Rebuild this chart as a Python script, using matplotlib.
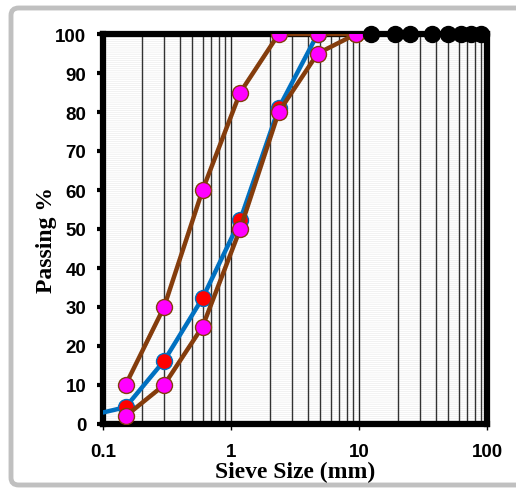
import numpy as np
import matplotlib.pyplot as plt
from matplotlib.patches import FancyBboxPatch
from matplotlib.ticker import LogLocator, NullFormatter

# sieve sizes (mm) and passing percentages
sieve = [0.15, 0.3, 0.6, 1.18, 2.36, 4.75, 9.5]
upper_limit = [10, 30, 60, 85, 100, 100, 100]
lower_limit = [2, 10, 25, 50, 80, 95, 100]

sample_sieve = [0.075, 0.15, 0.3, 0.6, 1.18, 2.36, 4.75]
sample_pass = [2, 4.3, 16.2, 32.3, 52.3, 81, 100]

coarse_sieve = [12.5, 19, 25, 37.5, 50, 63, 75, 90]
coarse_pass = [100, 100, 100, 100, 100, 100, 100, 100]

x_ticks = [0.1, 1, 10, 100]
x_tick_labels = ['0.1', '1', '10', '100']
y_ticks = list(range(0, 101, 10))

plt.rcParams['hatch.linewidth'] = 1.2

fig = plt.figure(figsize=(5.16, 4.89), dpi=100)

# outer rounded frame
frame = FancyBboxPatch((11 / 516, 3 / 489), 520 / 516, 477 / 489,
                       boxstyle='round,pad=0,rounding_size=0.015',
                       transform=fig.transFigure, facecolor='white',
                       edgecolor='#c0c0c0', linewidth=3.5, zorder=-5)
fig.patches.append(frame)

ax = fig.add_axes([103 / 516, 64 / 489, 384 / 516, 390 / 489])
ax.set_xscale('log')
ax.set_xlim(0.1, 100)
ax.set_ylim(0, 100)

# striped background
ax.patch.set_facecolor('#e2e2e2')
ax.patch.set_edgecolor('white')
ax.patch.set_hatch('--------')

# vertical grid lines
ax.xaxis.set_minor_locator(LogLocator(base=10, subs=np.arange(2, 10)))
ax.xaxis.set_minor_formatter(NullFormatter())
ax.grid(True, which='minor', axis='x', color='#333333', linewidth=1.0)
ax.grid(True, which='major', axis='x', color='#222222', linewidth=1.0)

ax.plot(sieve, upper_limit, color='#843c0c', linewidth=3.2, marker='o',
        markersize=11.5, markerfacecolor='#ff00ff', markeredgecolor='#843c0c',
        markeredgewidth=1, zorder=4)
ax.plot(sample_sieve, sample_pass, color='#0070c0', linewidth=3.2, marker='o',
        markersize=11.5, markerfacecolor='#ff0000', markeredgecolor='#0070c0',
        markeredgewidth=1, zorder=3)
ax.plot(sieve, lower_limit, color='#843c0c', linewidth=3.2, marker='o',
        markersize=11.5, markerfacecolor='#ff00ff', markeredgecolor='#843c0c',
        markeredgewidth=1, zorder=5)
ax.plot(coarse_sieve, coarse_pass, color='black', linewidth=3, marker='o',
        markersize=11.5, markerfacecolor='black', markeredgecolor='black',
        clip_on=False, zorder=6)

ax.set_xticks(x_ticks)
ax.set_xticklabels(x_tick_labels)
ax.set_yticks(y_ticks)

for s in ax.spines.values():
    s.set_linewidth(4.5)
    s.set_color('black')

ax.tick_params(axis='y', which='major', direction='out', length=4, width=3,
               pad=8, labelsize=13.5)
ax.tick_params(axis='x', which='major', direction='out', length=4, width=1,
               pad=10, labelsize=13.5)
ax.tick_params(axis='x', which='minor', length=0)
for lab in ax.get_xticklabels() + ax.get_yticklabels():
    lab.set_fontweight('bold')
    lab.set_fontfamily('Liberation Sans')

ax.set_xlabel('Sieve Size (mm)', fontsize=17, fontweight='bold',
              fontfamily='Liberation Serif', labelpad=0)
ax.set_ylabel('Passing %', fontsize=17, fontweight='bold',
              fontfamily='Liberation Serif')
ax.yaxis.set_label_coords(-0.12, 0.475)

fig.savefig('out.png', dpi=100)
